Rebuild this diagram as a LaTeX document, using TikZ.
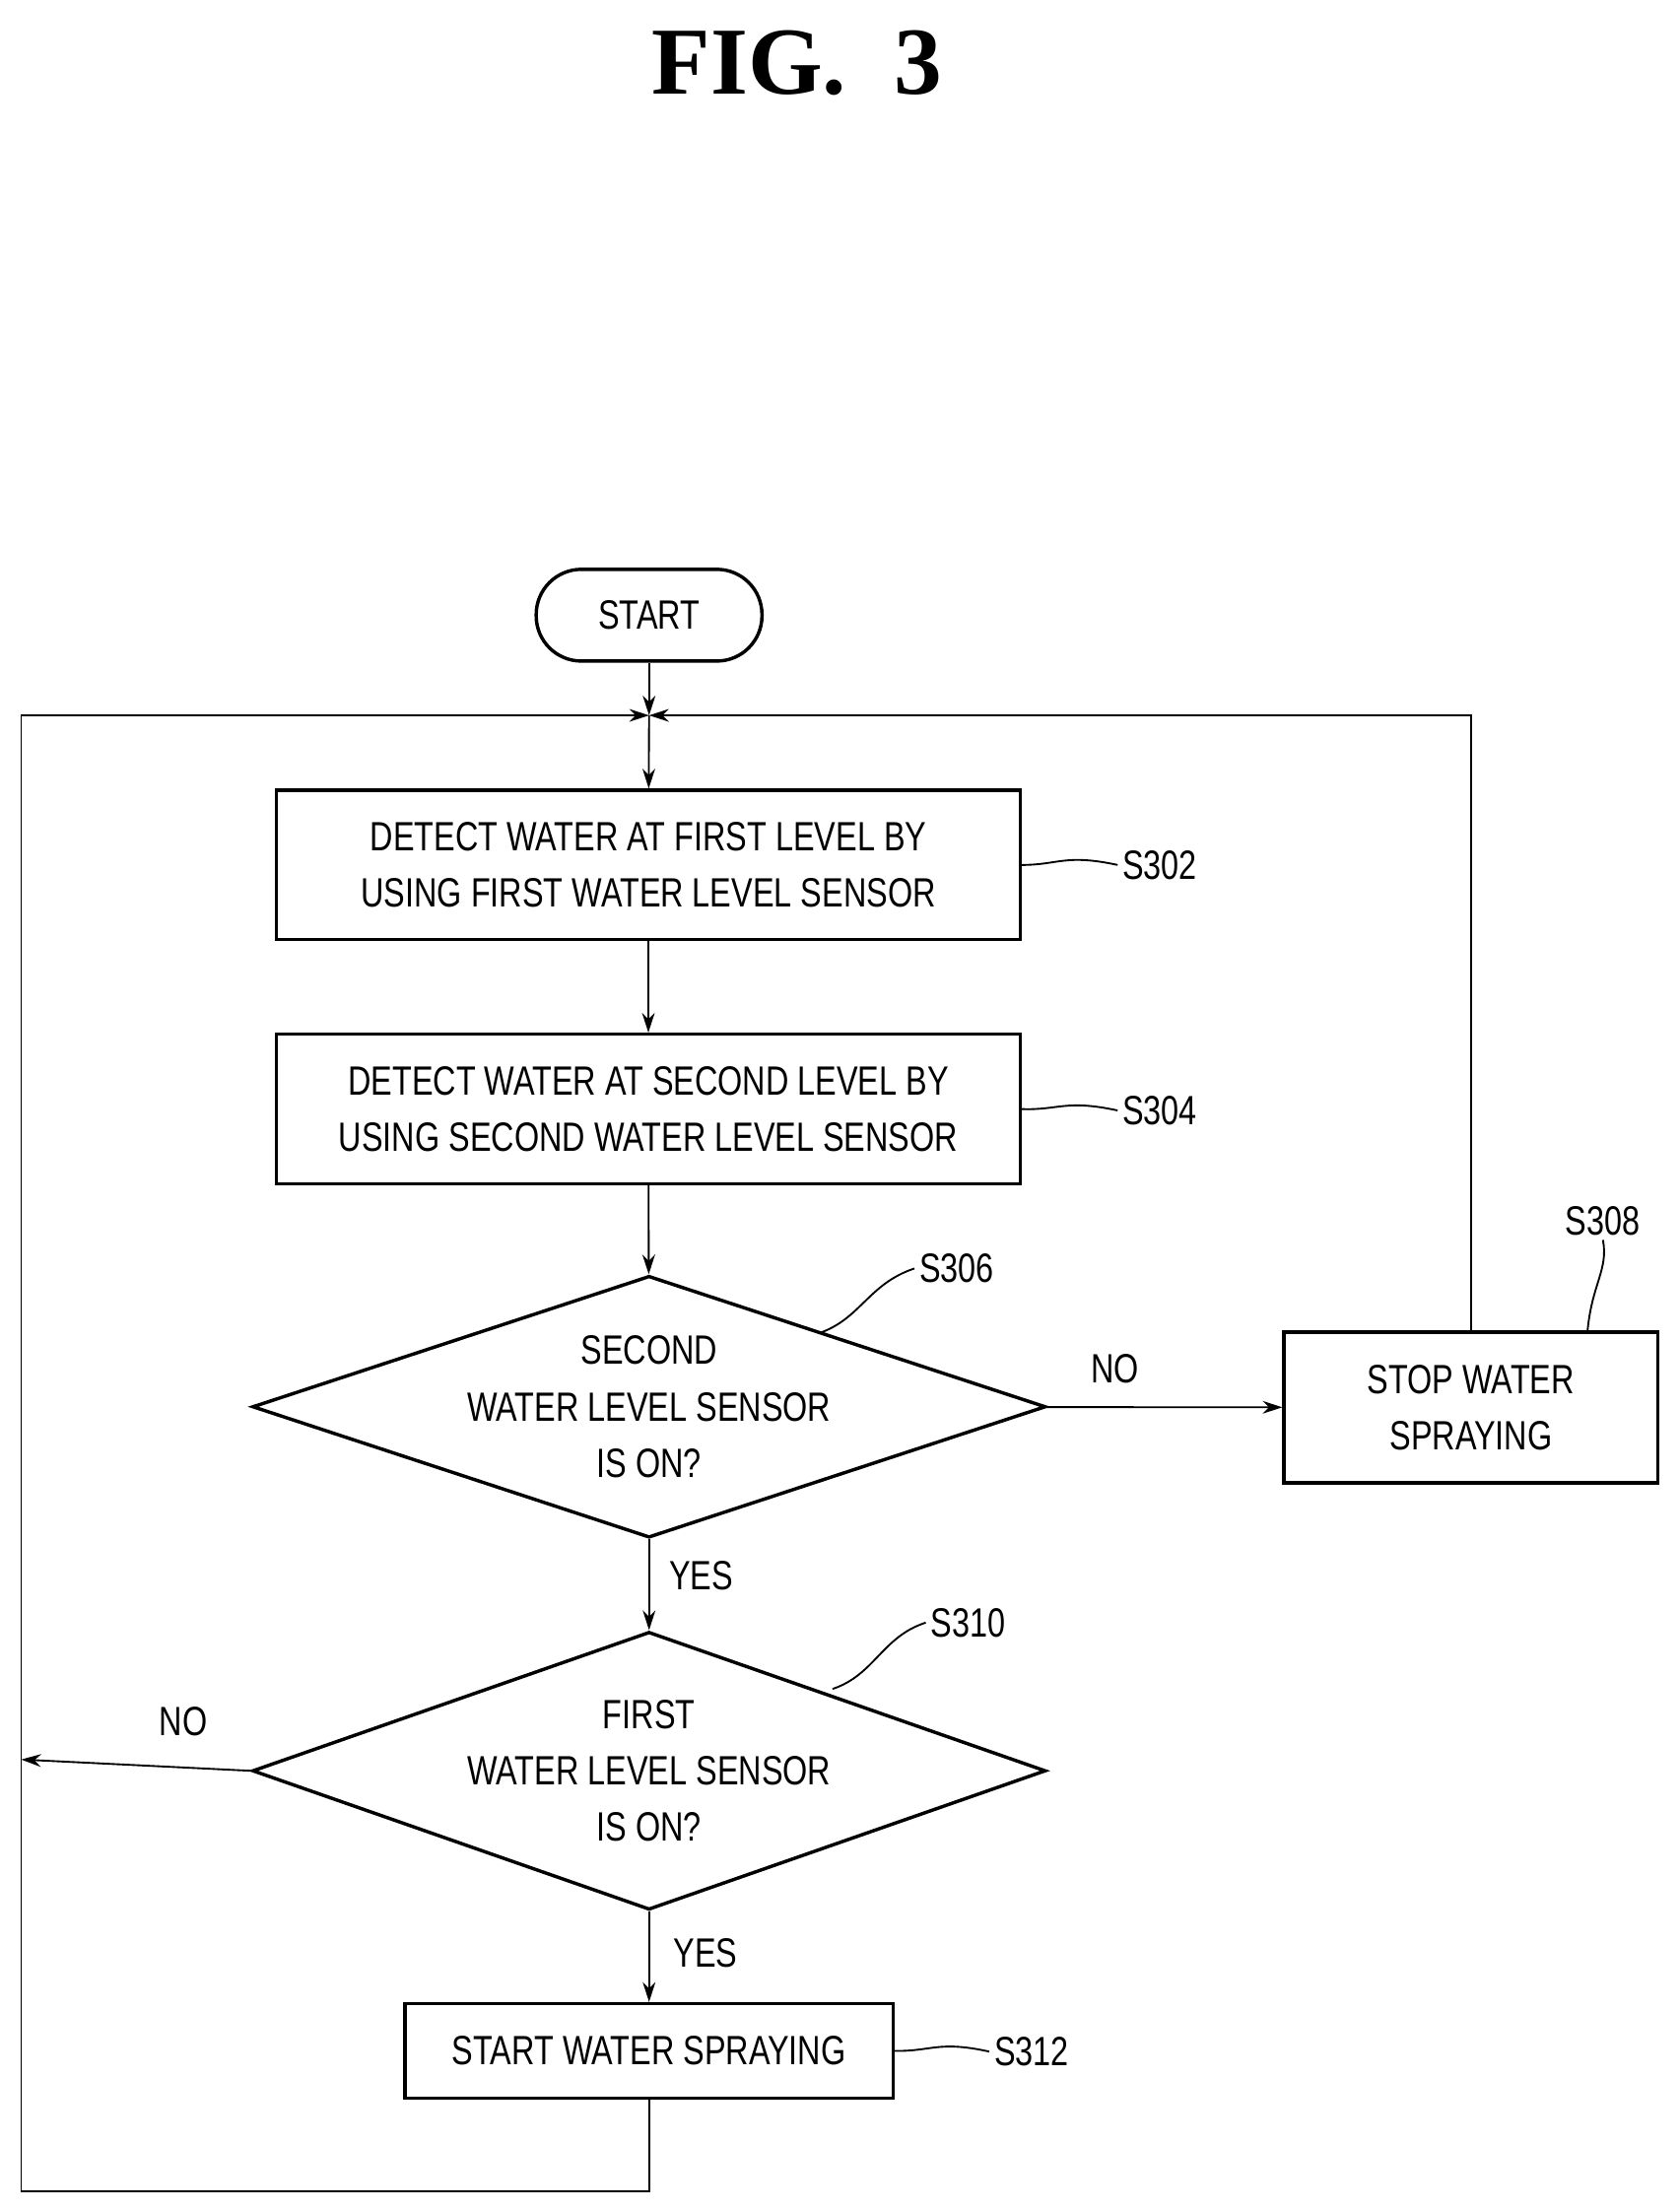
\documentclass[tikz,border=0pt]{standalone}
\usepackage{fontspec}
\setmainfont{Liberation Sans}[FakeStretch=0.78]
\newfontfamily\titlefont{Liberation Serif}
\usetikzlibrary{shapes.geometric,arrows.meta}
\begin{document}
\begin{tikzpicture}[x=1pt,y=-1pt,
  box/.style={draw,line width=2.4pt,minimum width=#1,align=center,font=\fontsize{29}{40}\selectfont,inner sep=0pt},
  dia/.style={draw,line width=2.4pt,diamond,aspect=3.03,minimum width=545pt,minimum height=180pt,align=center,font=\fontsize{29}{40}\selectfont,inner sep=0pt},
  ln/.style={line width=1.3pt},
  arr/.style={ln,-{Stealth[length=14pt,width=9pt]}},
  lab/.style={font=\fontsize{29}{36}\selectfont}]
\useasboundingbox (0,0) rectangle (1190,1567);
\node[font=\titlefont\bfseries\fontsize{68}{70}\selectfont] (title) at (565,45) {FIG.\ \ 3};
\node[draw,line width=2.4pt,rounded corners=32pt,minimum width=160pt,minimum height=65pt,font=\fontsize{29}{36}\selectfont] (start) at (460,436) {START};
\coordinate (m) at (460,507);
\node[box=527pt,minimum height=106pt] (s302) at (459.5,613) {DETECT WATER AT FIRST LEVEL BY\\USING FIRST WATER LEVEL SENSOR};
\node[box=527pt,minimum height=106pt] (s304) at (459.5,786) {DETECT WATER AT SECOND LEVEL BY\\USING SECOND WATER LEVEL SENSOR};
\node[dia] (s306) at (460,997) {SECOND\\WATER LEVEL SENSOR\\IS ON?};
\node[box=265pt,minimum height=107pt] (s308) at (1042.5,997.5) {STOP WATER\\SPRAYING};
\node[dia,minimum height=197pt] (s310) at (460,1255) {FIRST\\WATER LEVEL SENSOR\\IS ON?};
\node[box=346pt,minimum height=67pt] (s312) at (460,1453.5) {START WATER SPRAYING};
\coordinate (bl) at (15,1553);
\coordinate (lft) at (15,1247);
\draw[arr] (start) -- (m);
\draw[arr] (m) -- (s302);
\draw[arr] (s302) -- (s304);
\draw[arr] (s304) -- (s306);
\draw[arr] (s306) -- (s308);
\draw[arr] (s306) -- (s310);
\draw[arr] (s310) -- (s312);
\draw[arr] (s310.west) -- (lft);
\draw[arr] (s312.south) |- (bl) |- (m);
\draw[arr] (s308.north) |- (m);
\node[lab] (no1) at (790,970) {NO};
\node[lab] (yes1) at (497,1117) {YES};
\node[lab] (no2) at (130,1220) {NO};
\node[lab] (yes2) at (500,1384) {YES};
\node[lab] (l302) at (822,613) {S302};
\node[lab] (l304) at (822,787) {S304};
\node[lab] (l306) at (678,899) {S306};
\node[lab] (l308) at (1136,865) {S308};
\node[lab] (l310) at (686,1150) {S310};
\node[lab] (l312) at (731,1454) {S312};
\draw[ln] (s302.east) .. controls (750,613) and (755,605) .. (l302.west);
\draw[ln] (s304.east) .. controls (750,787) and (755,779) .. (l304.west);
\draw[ln] (580,945) .. controls (610,935) and (615,910) .. (l306.west);
\draw[ln] (590,1197) .. controls (620,1187) and (625,1160) .. (l310.west);
\draw[ln] (s312.east) .. controls (660,1454) and (665,1446) .. (l312.west);
\draw[ln] (1125,944) .. controls (1128,910) and (1140,900) .. (l308.south);
\end{tikzpicture}
\end{document}
